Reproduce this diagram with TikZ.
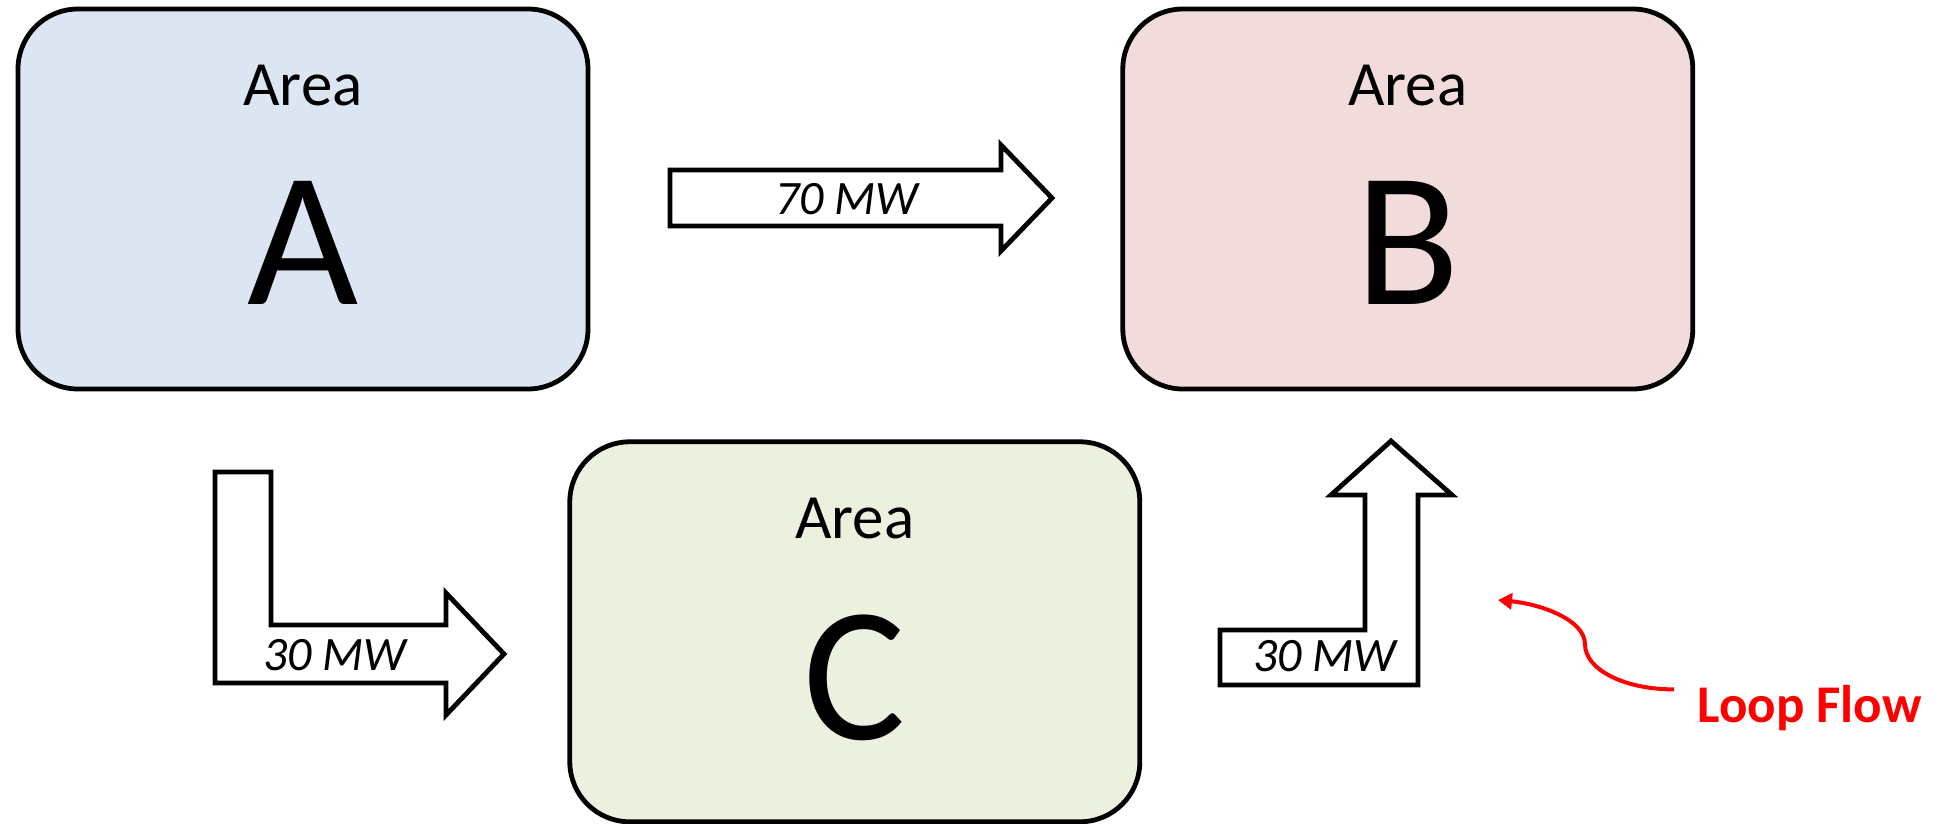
\documentclass[tikz,border=0pt]{standalone}
\usepackage{fontspec}
\setmainfont{Carlito}
\usepackage{xcolor}
\usepackage{tikz}
\usetikzlibrary{arrows.meta, positioning, calc}

\definecolor{areablue}{HTML}{DCE6F2}
\definecolor{areared}{HTML}{F2DCDB}
\definecolor{areagreen}{HTML}{EBF1DE}

\begin{document}
\begin{tikzpicture}[
    x=0.5pt, y=-0.5pt,
    area/.style={rectangle, draw, line width=2.4pt, rounded corners=30pt, minimum width=285pt, minimum height=190pt},
    arealabel/.style={inner sep=0pt, font=\fontsize{31.5}{36}\selectfont},
    areaname/.style={inner sep=0pt, font=\fontsize{96}{100}\selectfont},
    flow/.style={draw, line width=2.4pt, fill=white, line join=miter},
    flowlabel/.style={inner sep=0pt, font=\fontsize{24}{28}\selectfont\itshape},
    loopflow/.style={-{Triangle[length=7pt,width=8pt]}, red, line width=2pt}
]
\useasboundingbox (0,0) rectangle (1944,824);

% Areas
\node[area, fill=areablue] (A) at (303,199) {};
\node[area, fill=areared, right=265pt of A] (B) {};
\node[area, fill=areagreen, below right=24pt and -11.5pt of A] (C) {};

\node[arealabel, below=29pt of A.north] (A-area) {Area};
\node[areaname, below=37.5pt of A-area] (A-name) {A};
\node[arealabel, below=29pt of B.north] (B-area) {Area};
\node[areaname, below=37.5pt of B-area] (B-name) {B};
\node[arealabel, below=29pt of C.north] (C-area) {Area};
\node[areaname, below=37.5pt of C-area] (C-name) {C};

% Flow A to B
\draw[flow] (670,170) -- (1001,170) -- (1001,145) -- (1052,198) -- (1001,251) -- (1001,226) -- (670,226) -- cycle;
\node[flowlabel] (ab-mw) at (847,199) {70 MW};

% Flow A to C
\draw[flow] (215,472) -- (271,472) -- (271,625) -- (446,625) -- (446,593) -- (504,654) -- (446,715) -- (446,683) -- (215,683) -- cycle;
\node[flowlabel] (ac-mw) at (335,655) {30 MW};

% Flow C to B
\draw[flow] (1220,685) -- (1220,630) -- (1365,630) -- (1365,495) -- (1331,495) -- (1391,441) -- (1452,495) -- (1418,495) -- (1418,685) -- cycle;
\node[flowlabel] (cb-mw) at (1325,656) {30 MW};

% Loop flow
\node[inner sep=0pt, anchor=base west, text=red, font=\fontsize{26.5}{30}\selectfont\bfseries] (loop-text) at (1697,722) {Loop Flow};
\coordinate (loop-end) at (1498,600);
\draw[loopflow] ($(loop-text.north west)+(-23,5)$) .. controls +(-50,0) and +(0,25) .. ++(-89,-45) .. controls +(0,-25) and +(42,4) .. (loop-end);

\end{tikzpicture}
\end{document}
